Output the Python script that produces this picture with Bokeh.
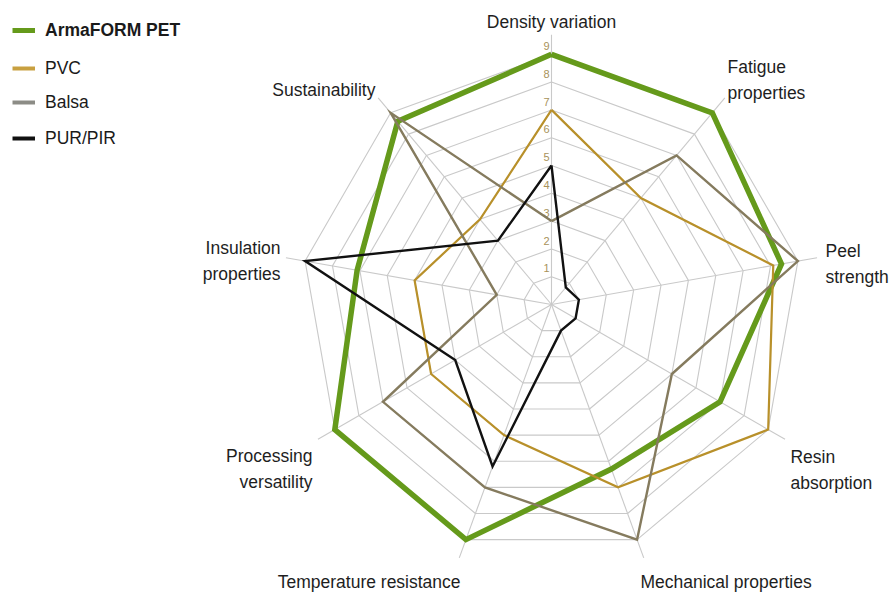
import numpy as np
from bokeh.plotting import figure
from bokeh.models import Legend, LegendItem
from bokeh.core.properties import value
from bokeh.embed import file_html
from bokeh.resources import INLINE

# ---------------- data ----------------
categories = ["Density variation", "Fatigue properties", "Peel strength",
              "Resin absorption", "Mechanical properties", "Temperature resistance",
              "Processing versatility", "Insulation properties", "Sustainability"]
label_text = ["Density variation", "Fatigue\nproperties", "Peel\nstrength",
              "Resin\nabsorption", "Mechanical properties", "Temperature resistance",
              "Processing\nversatility", "Insulation\nproperties", "Sustainability"]
series_names = ["ArmaFORM PET", "PVC", "Balsa", "PUR/PIR"]
armaform_pet = [9, 9, 8.4, 7.0, 6.3, 9, 9, 7.1, 8.6]
pvc = [7, 5, 8.1, 9.0, 7, 5, 5, 5, 4]
balsa = [3, 7, 9, 5, 9, 7, 7, 2, 9]
pur_pir = [5, 0.8, 1, 1, 1, 6.2, 4, 9, 3]
tick_values = [1, 2, 3, 4, 5, 6, 7, 8, 9]
tick_labels = ["1", "2", "3", "4", "5", "6", "7", "8", "9"]

# ---------------- styles / layout ----------------
W, H = 891, 593
UNIT = 27.8            # px per value unit
CX, CY = 551, 304      # canvas px of the radar centre
SPOKE = 9.7
LABEL_R = 10.3
FONT = "Liberation Sans"
colors = ["#659a1b", "#b8902a", "#857b5e", "#111111"]
widths = [5.5, 2.2, 2.4, 2.4]
legend_colors = ["#659a1b", "#c8a040", "#8c8c86", "#111111"]
legend_widths = [5, 4, 4, 4]
legend_rows_y = [30, 68, 102, 138]       # canvas px, row centres
label_offsets_px = [(0, 4), (-8, -5), (-8, 9), (-9, 22), (-9, 8),
                    (7, 8), (9, 21), (11, 6), (8, 5)]
label_align = ["center", "left", "left", "left", "left",
               "right", "right", "right", "right"]

n = len(categories)
ang = np.deg2rad(90 - 360.0 / n * np.arange(n))
cosa, sina = np.cos(ang), np.sin(ang)

p = figure(width=W, height=H, output_backend="svg", toolbar_location=None,
           x_range=(-CX / UNIT, (W - CX) / UNIT),
           y_range=(-(H - CY) / UNIT, CY / UNIT),
           min_border=0, x_axis_location=None, y_axis_location=None)
p.grid.visible = False
p.outline_line_color = None
p.background_fill_color = "white"
p.border_fill_color = "white"

grid_color = "#c9c9c9"
# rings
ring_xs = [list(np.append(r * cosa, r * cosa[0])) for r in tick_values]
ring_ys = [list(np.append(r * sina, r * sina[0])) for r in tick_values]
p.multi_line(ring_xs, ring_ys, line_color=grid_color, line_width=1.1)
# spokes
p.segment(x0=[0] * n, y0=[0] * n, x1=list(SPOKE * cosa), y1=list(SPOKE * sina),
          line_color=grid_color, line_width=1.1)

# tick labels on the top spoke
p.text(x=[0] * len(tick_values), y=[v + 0.3 for v in tick_values], text=tick_labels,
       x_offset=-5, text_align="center", text_baseline="middle",
       text_font=value(FONT), text_font_size="11px", text_color="#a8925a")

# series
all_series = [armaform_pet, pvc, balsa, pur_pir]
for i in range(len(all_series)):
    vals = np.array(all_series[i], dtype=float)
    xs = np.append(vals * cosa, vals[0] * cosa[0])
    ys = np.append(vals * sina, vals[0] * sina[0])
    p.line(list(xs), list(ys), line_color=colors[i], line_width=widths[i],
           line_join="miter")

# category labels
lx = [LABEL_R * c + dx / UNIT for c, (dx, dy) in zip(cosa, label_offsets_px)]
ly = [LABEL_R * s - dy / UNIT for s, (dx, dy) in zip(sina, label_offsets_px)]
for i in range(n):
    p.text(x=[lx[i]], y=[ly[i]], text=[label_text[i]], text_align=label_align[i],
           text_baseline="middle", text_font=value(FONT), text_font_size="17.5px",
           text_color="#1e1e1e", text_line_height=1.3)

# legend (four single-item legends, placed row by row)
for i, name in enumerate(series_names):
    r = p.line(x=[np.nan, np.nan], y=[np.nan, np.nan], line_color=legend_colors[i],
               line_width=legend_widths[i])
    leg = Legend(items=[LegendItem(label=name, renderers=[r])],
                 location=(12, H - (legend_rows_y[i] + 12)),
                 padding=0, margin=0, spacing=0,
                 border_line_alpha=0, background_fill_alpha=0,
                 glyph_width=23, glyph_height=24, label_height=24,
                 label_standoff=10, label_text_font=FONT,
                 label_text_font_size="17.5px", label_text_color="#1a1a1a",
                 label_text_font_style="bold" if i == 0 else "normal",
                 label_text_baseline="middle")
    p.add_layout(leg)

open("out.html", "w").write(file_html(p, INLINE))
